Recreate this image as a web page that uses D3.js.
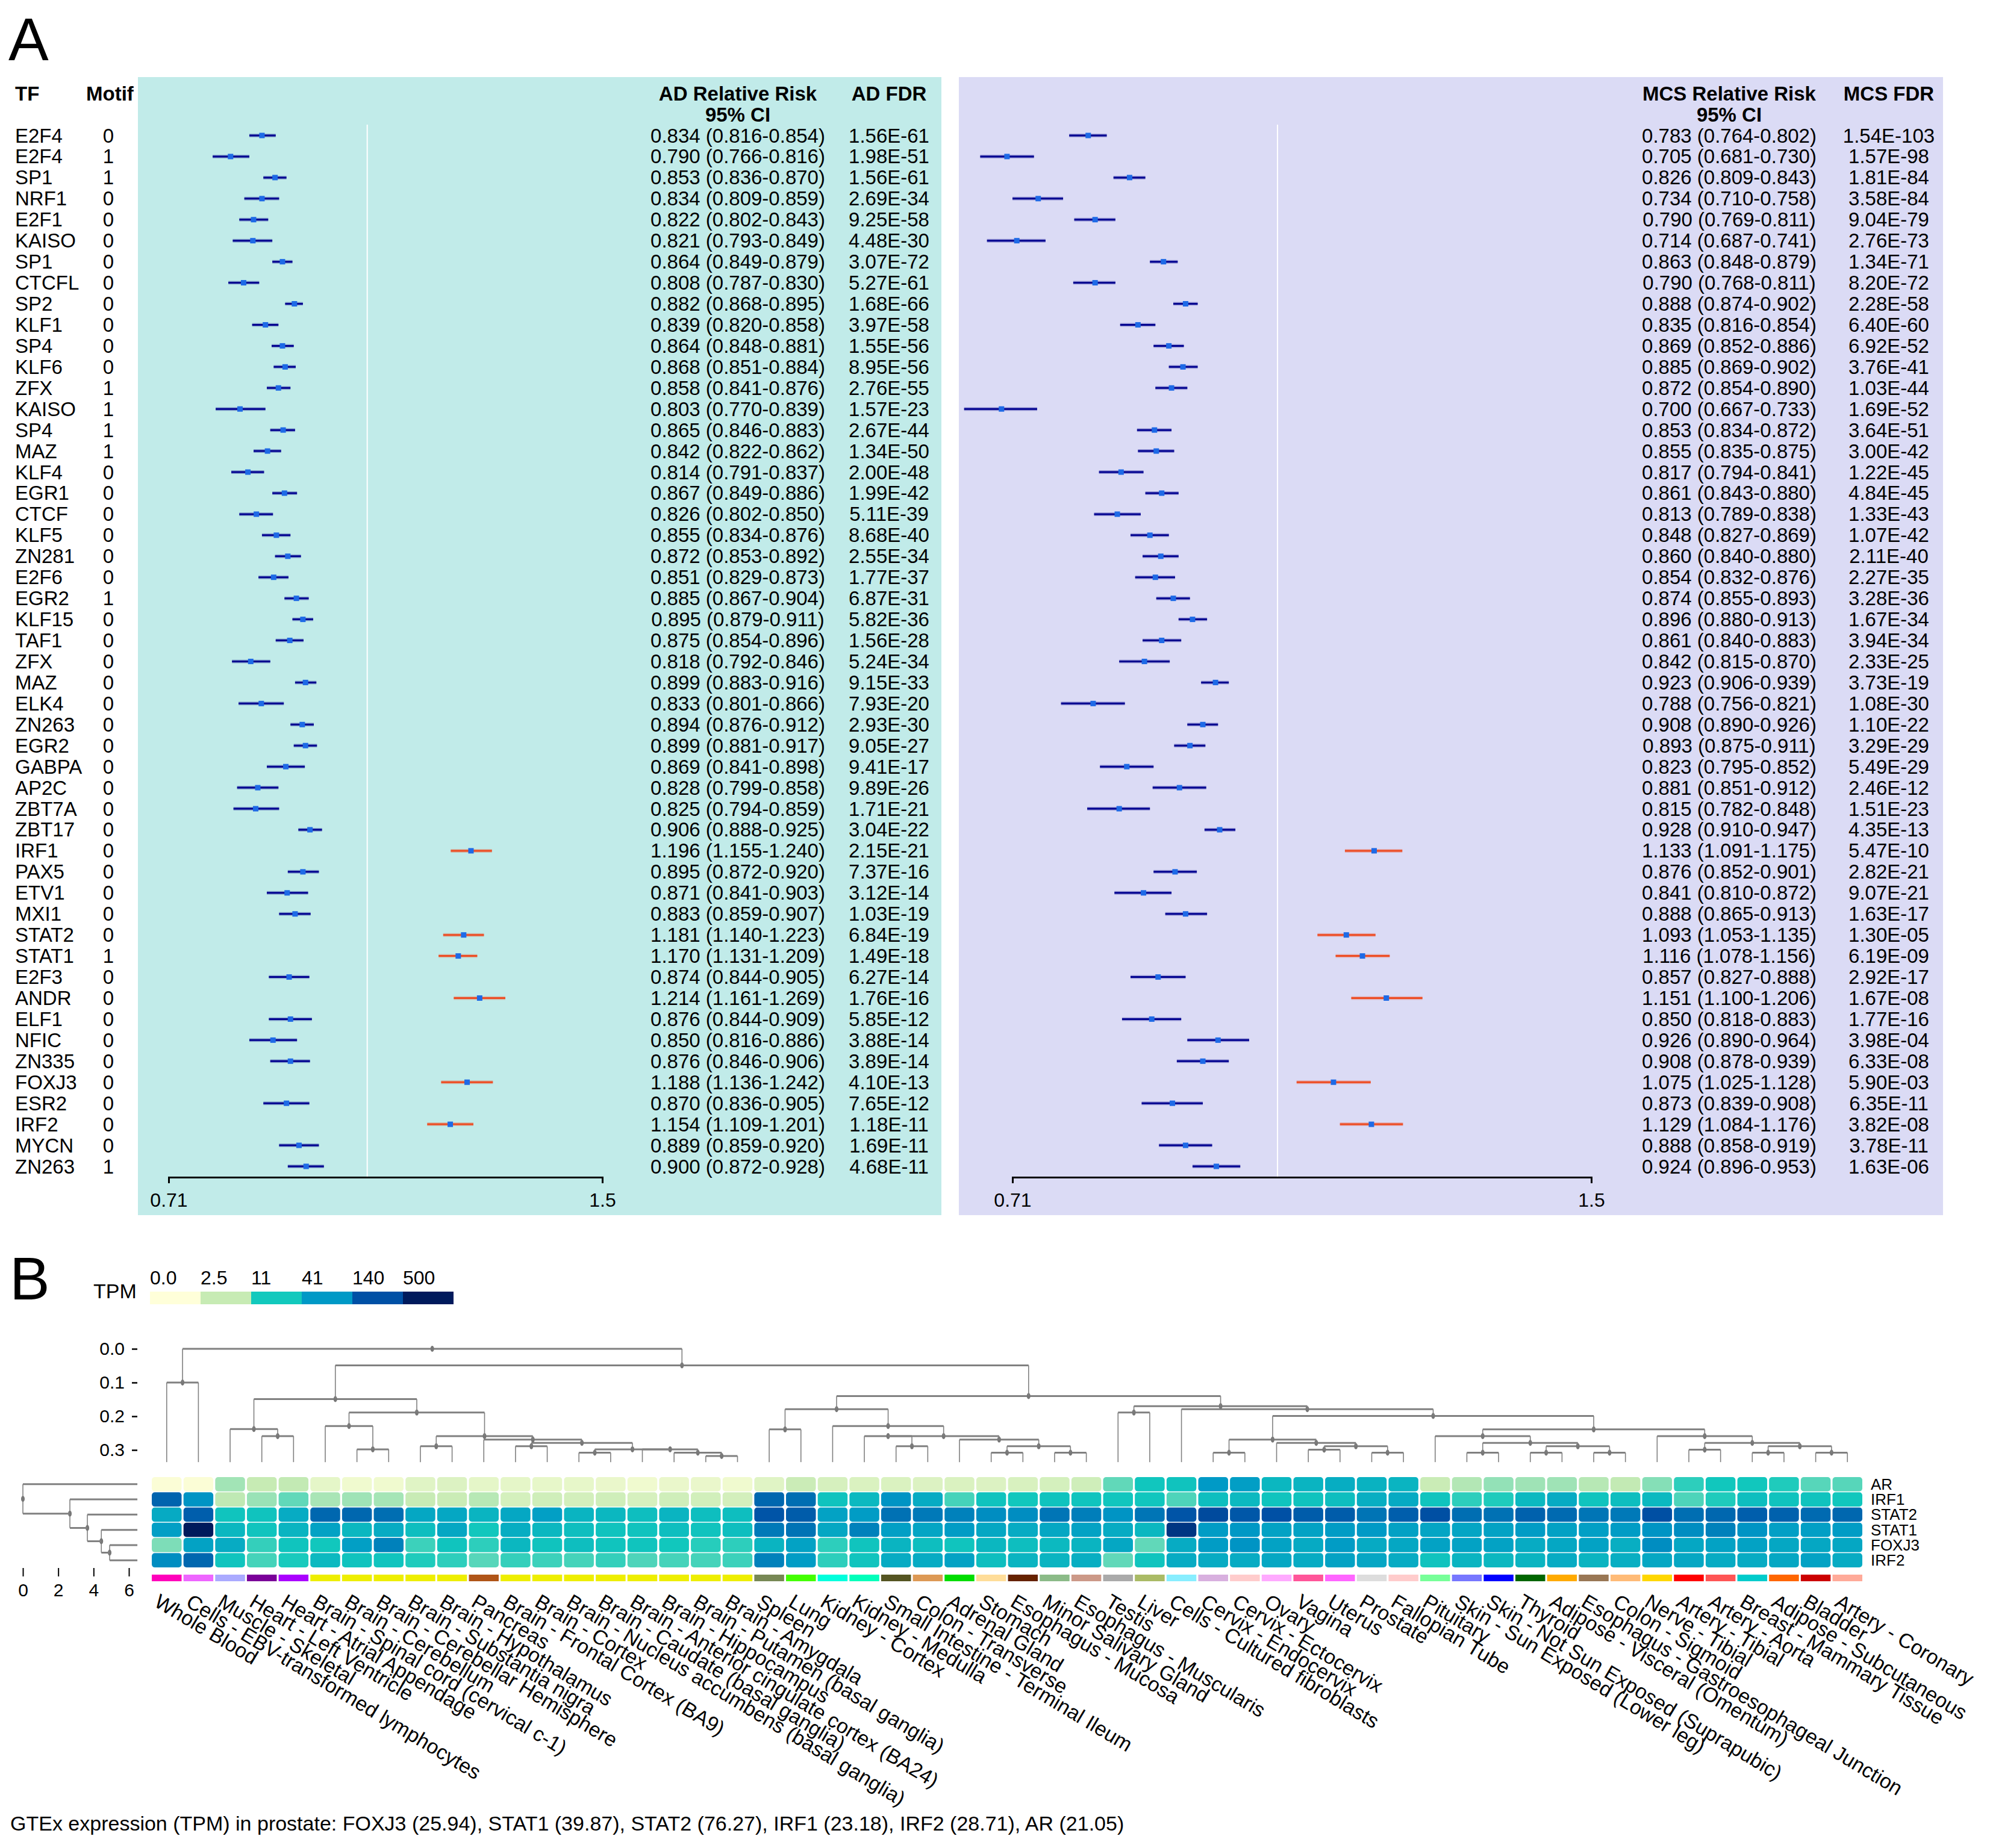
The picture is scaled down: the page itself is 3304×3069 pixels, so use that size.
<!DOCTYPE html>
<html>
<head>
<meta charset="utf-8">
<script src="https://cdn.jsdelivr.net/npm/d3@7"></script>
<style>
body { margin: 0; background: #fff; }
svg { font-family: "Liberation Sans", Arial, sans-serif; }
</style>
</head>
<body>
<svg id="chart" width="3304" height="3069"></svg>
<script>
// ---------- panel A: forest plots ----------
const tfNames = ["E2F4","E2F4","SP1","NRF1","E2F1","KAISO","SP1","CTCFL","SP2","KLF1",
  "SP4","KLF6","ZFX","KAISO","SP4","MAZ","KLF4","EGR1","CTCF","KLF5",
  "ZN281","E2F6","EGR2","KLF15","TAF1","ZFX","MAZ","ELK4","ZN263","EGR2",
  "GABPA","AP2C","ZBT7A","ZBT17","IRF1","PAX5","ETV1","MXI1","STAT2","STAT1",
  "E2F3","ANDR","ELF1","NFIC","ZN335","FOXJ3","ESR2","IRF2","MYCN","ZN263"];
const motifs = [0,1,1,0,0,0,0,0,0,0, 0,0,1,1,1,1,0,0,0,0, 0,0,1,0,0,0,0,0,0,0,
  0,0,0,0,0,0,0,0,0,1, 0,0,0,0,0,0,0,0,0,1];

const adRR = [0.834,0.790,0.853,0.834,0.822,0.821,0.864,0.808,0.882,0.839,
  0.864,0.868,0.858,0.803,0.865,0.842,0.814,0.867,0.826,0.855,
  0.872,0.851,0.885,0.895,0.875,0.818,0.899,0.833,0.894,0.899,
  0.869,0.828,0.825,0.906,1.196,0.895,0.871,0.883,1.181,1.170,
  0.874,1.214,0.876,0.850,0.876,1.188,0.870,1.154,0.889,0.900];
const adLo = [0.816,0.766,0.836,0.809,0.802,0.793,0.849,0.787,0.868,0.820,
  0.848,0.851,0.841,0.770,0.846,0.822,0.791,0.849,0.802,0.834,
  0.853,0.829,0.867,0.879,0.854,0.792,0.883,0.801,0.876,0.881,
  0.841,0.799,0.794,0.888,1.155,0.872,0.841,0.859,1.140,1.131,
  0.844,1.161,0.844,0.816,0.846,1.136,0.836,1.109,0.859,0.872];
const adHi = [0.854,0.816,0.870,0.859,0.843,0.849,0.879,0.830,0.895,0.858,
  0.881,0.884,0.876,0.839,0.883,0.862,0.837,0.886,0.850,0.876,
  0.892,0.873,0.904,0.911,0.896,0.846,0.916,0.866,0.912,0.917,
  0.898,0.858,0.859,0.925,1.240,0.920,0.903,0.907,1.223,1.209,
  0.905,1.269,0.909,0.886,0.906,1.242,0.905,1.201,0.920,0.928];
const adFDR = ["1.56E-61","1.98E-51","1.56E-61","2.69E-34","9.25E-58","4.48E-30","3.07E-72","5.27E-61","1.68E-66","3.97E-58",
  "1.55E-56","8.95E-56","2.76E-55","1.57E-23","2.67E-44","1.34E-50","2.00E-48","1.99E-42","5.11E-39","8.68E-40",
  "2.55E-34","1.77E-37","6.87E-31","5.82E-36","1.56E-28","5.24E-34","9.15E-33","7.93E-20","2.93E-30","9.05E-27",
  "9.41E-17","9.89E-26","1.71E-21","3.04E-22","2.15E-21","7.37E-16","3.12E-14","1.03E-19","6.84E-19","1.49E-18",
  "6.27E-14","1.76E-16","5.85E-12","3.88E-14","3.89E-14","4.10E-13","7.65E-12","1.18E-11","1.69E-11","4.68E-11"];

const mcsRR = [0.783,0.705,0.826,0.734,0.790,0.714,0.863,0.790,0.888,0.835,
  0.869,0.885,0.872,0.700,0.853,0.855,0.817,0.861,0.813,0.848,
  0.860,0.854,0.874,0.896,0.861,0.842,0.923,0.788,0.908,0.893,
  0.823,0.881,0.815,0.928,1.133,0.876,0.841,0.888,1.093,1.116,
  0.857,1.151,0.850,0.926,0.908,1.075,0.873,1.129,0.888,0.924];
const mcsLo = [0.764,0.681,0.809,0.710,0.769,0.687,0.848,0.768,0.874,0.816,
  0.852,0.869,0.854,0.667,0.834,0.835,0.794,0.843,0.789,0.827,
  0.840,0.832,0.855,0.880,0.840,0.815,0.906,0.756,0.890,0.875,
  0.795,0.851,0.782,0.910,1.091,0.852,0.810,0.865,1.053,1.078,
  0.827,1.100,0.818,0.890,0.878,1.025,0.839,1.084,0.858,0.896];
const mcsHi = [0.802,0.730,0.843,0.758,0.811,0.741,0.879,0.811,0.902,0.854,
  0.886,0.902,0.890,0.733,0.872,0.875,0.841,0.880,0.838,0.869,
  0.880,0.876,0.893,0.913,0.883,0.870,0.939,0.821,0.926,0.911,
  0.852,0.912,0.848,0.947,1.175,0.901,0.872,0.913,1.135,1.156,
  0.888,1.206,0.883,0.964,0.939,1.128,0.908,1.176,0.919,0.953];
const mcsFDR = ["1.54E-103","1.57E-98","1.81E-84","3.58E-84","9.04E-79","2.76E-73","1.34E-71","8.20E-72","2.28E-58","6.40E-60",
  "6.92E-52","3.76E-41","1.03E-44","1.69E-52","3.64E-51","3.00E-42","1.22E-45","4.84E-45","1.33E-43","1.07E-42",
  "2.11E-40","2.27E-35","3.28E-36","1.67E-34","3.94E-34","2.33E-25","3.73E-19","1.08E-30","1.10E-22","3.29E-29",
  "5.49E-29","2.46E-12","1.51E-23","4.35E-13","5.47E-10","2.82E-21","9.07E-21","1.63E-17","1.30E-05","6.19E-09",
  "2.92E-17","1.67E-08","1.77E-16","3.98E-04","6.33E-08","5.90E-03","6.35E-11","3.82E-08","3.78E-11","1.63E-06"];

const rrTicks = [0.71, 1.5];

// ---------- panel B: GTEx heatmap ----------
const genes = ["AR","IRF1","STAT2","STAT1","FOXJ3","IRF2"];
const tissues = ["Whole Blood","Cells - EBV-transformed lymphocytes","Muscle - Skeletal","Heart - Left Ventricle",
  "Heart - Atrial Appendage","Brain - Spinal cord (cervical c-1)","Brain - Cerebellum","Brain - Cerebellar Hemisphere",
  "Brain - Substantia nigra","Brain - Hypothalamus","Pancreas","Brain - Frontal Cortex (BA9)","Brain - Cortex",
  "Brain - Nucleus accumbens (basal ganglia)","Brain - Caudate (basal ganglia)","Brain - Anterior cingulate cortex (BA24)",
  "Brain - Hippocampus","Brain - Putamen (basal ganglia)","Brain - Amygdala","Spleen","Lung","Kidney - Cortex",
  "Kidney - Medulla","Small Intestine - Terminal Ileum","Colon - Transverse","Adrenal Gland","Stomach",
  "Esophagus - Mucosa","Minor Salivary Gland","Esophagus - Muscularis","Testis","Liver","Cells - Cultured fibroblasts",
  "Cervix - Endocervix","Cervix - Ectocervix","Ovary","Vagina","Uterus","Prostate","Fallopian Tube","Pituitary",
  "Skin - Sun Exposed (Lower leg)","Skin - Not Sun Exposed (Suprapubic)","Thyroid","Adipose - Visceral (Omentum)",
  "Esophagus - Gastroesophageal Junction","Colon - Sigmoid","Nerve - Tibial","Artery - Tibial","Artery - Aorta",
  "Breast - Mammary Tissue","Adipose - Subcutaneous","Bladder","Artery - Coronary"];
const tissueColors = ["#FF00BB","#EE66FF","#AAAAFF","#7A0099","#AA00FF","#EEEE00","#EEEE00","#EEEE00","#EEEE00","#EEEE00",
  "#B05518","#EEEE00","#EEEE00","#EEEE00","#EEEE00","#EEEE00","#EEEE00","#EEEE00","#EEEE00","#778855",
  "#44FF00","#00FFDD","#00FFBB","#555522","#DD9955","#00DD00","#FFDD99","#662200","#8BBB88","#CC9988",
  "#AAAAAA","#AABB66","#88EEFF","#D8B0DF","#FFCCCC","#FFAAFF","#FF5599","#FF66FF","#DDDDDD","#FFCCCC",
  "#77FF99","#7777FF","#0000FF","#006600","#FFAA00","#997755","#FFBB77","#FFD700","#FF0000","#FF5555",
  "#00CCCC","#FF6600","#CC0000","#FFAA99"];

const tpmAR = [0.1,0.1,3.5,2.5,2.6,0.8,0.4,0.4,1.0,1.2, 0.8,0.8,0.7,0.7,0.6,0.4,0.6,0.6,0.4,1.0,
  2.2,1.5,1.3,1.3,1.2,1.3,1.2,1.4,1.6,1.9, 6,12,13,40,36,18,20,24,21.05,20,
  2.3,3,4,3.6,3.6,2.9,2.6,4.5,9,11.5, 11.5,10,6.5,6.5];
const tpmIRF1 = [100,45,2.7,3.8,6,3.3,3.6,3.4,2.4,2.3, 2.9,1.6,1.9,1.7,1.9,1.5,1.9,1.8,1.7,95,
  85,13,17,45,25,7.5,13,11.5,13,12.5, 12,12,7,15,17,12.5,13,15,23.18,26,
  12.5,9,10,17,25,12.5,15,17,7,10, 15,13,13,11.5];
const tpmSTAT2 = [26,110,12.5,13,25,95,95,85,28,28, 20,28,35,20,18,15,20,15,15,130,
  115,32,38,80,70,62,50,50,75,65, 45,75,130,160,125,140,115,115,76.27,110,
  145,85,80,105,90,75,70,145,85,95, 110,105,90,95];
const tpmSTAT1 = [35,500,18,12.5,20,32,18,25,15,28, 11.5,24,18,15,13,13,15,13,15,70,
  78,28,62,35,30,38,28,25,28,32, 25,18,260,38,42,32,32,38,39.87,33,
  30,30,32,38,33,35,38,45,50,62, 45,35,35,38];
const tpmFOXJ3 = [4.8,32,25,8.5,12.5,11.5,35,62,8,12.5, 9,18,13,15,12.5,12.5,11.5,9.5,9,20,
  32,9,12.5,20,15,12.5,18,15,17,20, 28,6,25,38,45,32,26,38,25.94,28,
  32,32,32,25,28,32,23,50,28,32, 32,28,28,28];
const tpmIRF2 = [50,95,12.5,7.5,10.5,17,13,12.5,10,9, 6.5,8.5,8,7.5,8.5,7,7.5,7.5,8,62,
  38,9,12.5,25,25,32,15,20,20,23, 6,12.5,25,25,25,28,25,32,28.71,25,
  13,20,18,20,25,20,23,28,28,25, 25,28,32,25];
const tpmRows = [tpmAR, tpmIRF1, tpmSTAT2, tpmSTAT1, tpmFOXJ3, tpmIRF2];

const tpmBreaks = [0, 2.5, 11, 41, 140, 500];
const tpmColors = ["#FFFFD9", "#C7EBB4", "#12C9BD", "#0099C6", "#0050A5", "#001A5C"];

// column dendrogram, hclust style: negative = leaf column, positive = earlier merge (1-based)
const colMerges = [
  [-1,-2,0.100],[-4,-5,0.259],[-3,2,0.238],[-7,-8,0.298],[-6,4,0.229],
  [-9,-10,0.289],[-12,-13,0.289],[-14,-15,0.308],[-18,-19,0.318],[-17,9,0.308],
  [-16,10,0.298],[8,11,0.298],[7,12,0.279],[-11,13,0.269],[6,14,0.259],
  [5,15,0.189],[3,16,0.149],[-20,-21,0.239],[-24,-25,0.289],[-23,19,0.259],
  [-27,-28,0.308],[-29,-30,0.308],[21,22,0.289],[-26,23,0.269],[20,24,0.259],
  [-22,25,0.229],[18,26,0.179],[-31,-32,0.189],[-34,-35,0.308],[-37,-38,0.299],
  [-39,-40,0.308],[30,31,0.289],[-36,32,0.279],[29,33,0.269],[-42,-43,0.308],
  [-44,-45,0.308],[-46,-47,0.308],[36,37,0.289],[35,38,0.279],[-41,39,0.259],
  [-49,-50,0.299],[-51,-52,0.308],[-53,-54,0.308],[42,43,0.289],[41,44,0.279],
  [-48,45,0.259],[40,46,0.239],[34,47,0.199],[-33,48,0.179],[28,49,0.170],
  [27,50,0.140],[17,51,0.049],[1,52,0.000]];
const colLeafHeight = 0.336;
const colDenTicks = [0, 0.1, 0.2, 0.3];

const rowMerges = [[-5,-6,4.91],[-4,1,4.44],[-3,2,3.65],[-2,3,2.66],[-1,4,0]];
const rowLeafHeight = 6.48;
const rowDenTicks = [0, 2, 4, 6];

const caption = "GTEx expression (TPM) in prostate: FOXJ3 (25.94), STAT1 (39.87), STAT2 (76.27), IRF1 (23.18), IRF2 (28.71), AR (21.05)";

const svg = d3.select("#chart");
const rowY = d3.scalePoint().domain(d3.range(tfNames.length)).range([225, 1937]);

function drawForest(cfg) {
    svg.append("rect")
        .attr("x", cfg.left).attr("y", 128)
        .attr("width", cfg.right - cfg.left).attr("height", 1890)
        .attr("fill", cfg.bg);

    const x = d3.scaleLog().domain([0.71, 1.5]).range(cfg.range);

    svg.append("line")
        .attr("x1", x(1)).attr("x2", x(1))
        .attr("y1", 207).attr("y2", 1955)
        .attr("stroke", "#fff").attr("stroke-width", 2);

    const g = svg.append("g");
    const lineColor = i => cfg.rr[i] > 1 ? "#EE4A20" : "#00008F";
    // soft halo under each CI line, then the line itself
    g.selectAll(".halo").data(d3.range(tfNames.length)).join("line")
        .attr("x1", i => x(cfg.lo[i])).attr("x2", i => x(cfg.hi[i]))
        .attr("y1", i => rowY(i)).attr("y2", i => rowY(i))
        .attr("stroke", lineColor).attr("stroke-opacity", 0.3)
        .attr("stroke-width", 6);
    g.selectAll(".ci").data(d3.range(tfNames.length)).join("line")
        .attr("x1", i => x(cfg.lo[i])).attr("x2", i => x(cfg.hi[i]))
        .attr("y1", i => rowY(i)).attr("y2", i => rowY(i))
        .attr("stroke", lineColor)
        .attr("stroke-width", 3);
    g.selectAll(".pt").data(d3.range(tfNames.length)).join("rect")
        .attr("x", i => x(cfg.rr[i]) - 4.5).attr("y", i => rowY(i) - 4.5)
        .attr("width", 9).attr("height", 9)
        .attr("fill", "#1E6AE6");

    const axis = svg.append("g")
        .attr("transform", "translate(0,1955)")
        .call(d3.axisBottom(x).tickValues(rrTicks).tickFormat(d3.format("")).tickSize(10).tickPadding(16));
    axis.select(".domain").attr("stroke-width", 3);
    axis.selectAll(".tick line").remove();
    axis.selectAll("text").attr("font-size", 32).attr("font-family", "Liberation Sans, Arial, sans-serif");

    svg.append("text").attr("x", cfg.rrX).attr("y", 167)
        .attr("text-anchor", "middle").attr("font-size", 33).attr("font-weight", "bold")
        .text(cfg.name + " Relative Risk");
    svg.append("text").attr("x", cfg.rrX).attr("y", 202)
        .attr("text-anchor", "middle").attr("font-size", 33).attr("font-weight", "bold")
        .text("95% CI");
    svg.append("text").attr("x", cfg.fdrX).attr("y", 167)
        .attr("text-anchor", "middle").attr("font-size", 33).attr("font-weight", "bold")
        .text(cfg.name + " FDR");

    g.selectAll(".rrtxt").data(d3.range(tfNames.length)).join("text")
        .attr("x", cfg.rrX).attr("y", i => rowY(i))
        .attr("text-anchor", "middle").attr("dominant-baseline", "central").attr("font-size", 33)
        .text(i => `${cfg.rr[i].toFixed(3)} (${cfg.lo[i].toFixed(3)}-${cfg.hi[i].toFixed(3)})`);
    g.selectAll(".fdrtxt").data(d3.range(tfNames.length)).join("text")
        .attr("x", cfg.fdrX).attr("y", i => rowY(i))
        .attr("text-anchor", "middle").attr("dominant-baseline", "central").attr("font-size", 33)
        .text(i => cfg.fdr[i]);
}

svg.append("text").attr("x", 14).attr("y", 100).attr("font-size", 100).text("A");
svg.append("text").attr("x", 25).attr("y", 167).attr("font-size", 33).attr("font-weight", "bold").text("TF");
svg.append("text").attr("x", 143).attr("y", 167).attr("font-size", 33).attr("font-weight", "bold").text("Motif");

drawForest({ name: "AD", left: 229, right: 1563, bg: "#C1EBE9", range: [280, 1000],
    rr: adRR, lo: adLo, hi: adHi, fdr: adFDR, rrX: 1225, fdrX: 1476 });
drawForest({ name: "MCS", left: 1592, right: 3226, bg: "#DBDBF5", range: [1681, 2642],
    rr: mcsRR, lo: mcsLo, hi: mcsHi, fdr: mcsFDR, rrX: 2871, fdrX: 3136 });

svg.append("g").selectAll("text").data(d3.range(tfNames.length)).join("text")
    .attr("x", 25).attr("y", i => rowY(i))
    .attr("dominant-baseline", "central").attr("font-size", 33)
    .text(i => tfNames[i]);
svg.append("g").selectAll("text").data(d3.range(tfNames.length)).join("text")
    .attr("x", 180).attr("y", i => rowY(i))
    .attr("text-anchor", "middle").attr("dominant-baseline", "central").attr("font-size", 33)
    .text(i => motifs[i]);

// ---------- panel B ----------
svg.append("text").attr("x", 16).attr("y", 2158).attr("font-size", 100).text("B");

const logTpm = v => Math.log2(v + 1);
const color = d3.scaleLinear().domain(tpmBreaks.map(logTpm)).range(tpmColors).clamp(true);

// legend
const legX = d3.scaleBand().domain(d3.range(tpmBreaks.length)).range([249, 753]);
svg.append("text").attr("x", 155).attr("y", 2156).attr("font-size", 34).text("TPM");
svg.append("g").selectAll("rect").data(d3.range(tpmBreaks.length)).join("rect")
    .attr("x", i => legX(i)).attr("y", 2145)
    .attr("width", legX.bandwidth()).attr("height", 21)
    .attr("fill", i => color(logTpm(tpmBreaks[i])));
svg.append("g").selectAll("text").data(d3.range(tpmBreaks.length)).join("text")
    .attr("x", i => legX(i)).attr("y", 2133).attr("font-size", 32)
    .text(i => tpmBreaks[i] < 10 ? tpmBreaks[i].toFixed(1) : tpmBreaks[i]);

// heatmap
const colX = d3.scaleBand().domain(d3.range(tissues.length)).range([252, 3092]).paddingInner(0.06);
const geneY = d3.scaleBand().domain(d3.range(genes.length)).range([2453, 2603]).paddingInner(0.06);
const colC = k => colX(k) + colX.bandwidth() / 2;
const rowC = r => geneY(r) + geneY.bandwidth() / 2;

const cells = [];
tpmRows.forEach((vals, r) => vals.forEach((v, k) => cells.push({ r, k, v })));
svg.append("g").selectAll("rect").data(cells).join("rect")
    .attr("x", d => colX(d.k)).attr("y", d => geneY(d.r))
    .attr("width", colX.bandwidth()).attr("height", geneY.bandwidth())
    .attr("rx", 5).attr("ry", 5)
    .attr("fill", d => color(logTpm(d.v)));

svg.append("g").selectAll("text").data(genes).join("text")
    .attr("x", 3106).attr("y", (d, r) => rowC(r))
    .attr("dominant-baseline", "central").attr("font-size", 26)
    .text(d => d);

// tissue colour strip and labels
svg.append("g").selectAll("rect").data(tissueColors).join("rect")
    .attr("x", (d, k) => colX(k)).attr("y", 2615)
    .attr("width", colX.bandwidth()).attr("height", 11)
    .attr("fill", d => d);
svg.append("g").selectAll("text").data(tissues).join("text")
    .attr("transform", (d, k) => `translate(${colC(k) - 10},2645) rotate(31)`)
    .attr("dominant-baseline", "hanging").attr("font-size", 34)
    .text(d => d);

// dendrograms
function layoutTree(merges, leafPos) {
    const nodes = [];
    const ref = m => m < 0 ? { p: leafPos(-m - 1), h: null } : nodes[m - 1];
    merges.forEach(([a, b, h]) => {
        const A = ref(a), B = ref(b);
        nodes.push({ A, B, p: (A.p + B.p) / 2, h });
    });
    return nodes;
}

const denY = d3.scaleLinear().domain([0, 0.3]).range([2240, 2408]);
const colNodes = layoutTree(colMerges, colC);
const colDen = svg.append("g").attr("stroke", "#808080").attr("fill", "none");
colNodes.forEach(n => {
    [n.A, n.B].forEach(c => {
        colDen.append("line")
            .attr("x1", c.p).attr("x2", c.p)
            .attr("y1", denY(n.h)).attr("y2", denY(c.h === null ? colLeafHeight : c.h))
            .attr("stroke-width", 1.6);
    });
    colDen.append("line")
        .attr("x1", n.A.p).attr("x2", n.B.p)
        .attr("y1", denY(n.h)).attr("y2", denY(n.h))
        .attr("stroke-width", 3);
    colDen.append("ellipse")
        .attr("cx", n.p).attr("cy", denY(n.h)).attr("rx", 3).attr("ry", 5)
        .attr("fill", "#777").attr("stroke", "none");
});
const colAxis = svg.append("g").attr("transform", "translate(228,0)")
    .call(d3.axisLeft(denY).tickValues(colDenTicks).tickFormat(d3.format(".1f")).tickSize(9).tickPadding(12));
colAxis.select(".domain").remove();
colAxis.selectAll(".tick line").attr("stroke-width", 2.5);
colAxis.selectAll("text").attr("font-size", 30).attr("font-family", "Liberation Sans, Arial, sans-serif");

const rowDenX = d3.scaleLinear().domain([0, 6]).range([38, 214]);
const rowNodes = layoutTree(rowMerges, rowC);
const rowDen = svg.append("g").attr("stroke", "#808080").attr("fill", "none");
rowNodes.forEach(n => {
    [n.A, n.B].forEach(c => {
        rowDen.append("line")
            .attr("x1", rowDenX(n.h)).attr("x2", rowDenX(c.h === null ? rowLeafHeight : c.h))
            .attr("y1", c.p).attr("y2", c.p)
            .attr("stroke-width", 3);
    });
    rowDen.append("line")
        .attr("x1", rowDenX(n.h)).attr("x2", rowDenX(n.h))
        .attr("y1", n.A.p).attr("y2", n.B.p)
        .attr("stroke-width", 1.6);
    rowDen.append("ellipse")
        .attr("cx", rowDenX(n.h)).attr("cy", n.p).attr("rx", 3).attr("ry", 5)
        .attr("fill", "#777").attr("stroke", "none");
});
const rowAxis = svg.append("g").attr("transform", "translate(0,2604)")
    .call(d3.axisBottom(rowDenX).tickValues(rowDenTicks).tickFormat(d3.format("d")).tickSize(14).tickPadding(12));
rowAxis.select(".domain").remove();
rowAxis.selectAll(".tick line").attr("stroke-width", 2);
rowAxis.selectAll("text").attr("font-size", 30).attr("font-family", "Liberation Sans, Arial, sans-serif");

svg.append("text").attr("x", 17).attr("y", 3040).attr("font-size", 34).text(caption);
</script>
</body>
</html>
